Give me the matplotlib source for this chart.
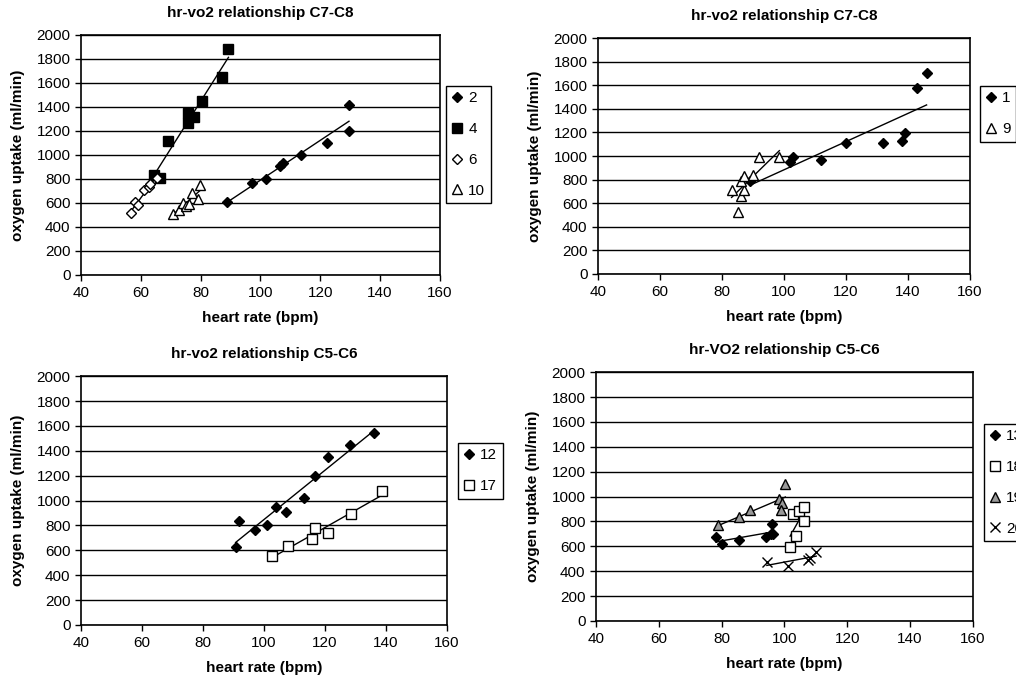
import numpy as np
import matplotlib
matplotlib.use("Agg")
import matplotlib.pyplot as plt

plt.rcParams["font.family"] = ["Liberation Sans", "DejaVu Sans"]
plt.rcParams["font.size"] = 11

# --- data (heart rate bpm, vo2 ml/min) ---
s2_hr = [88.8, 97.3, 101.8, 106.6, 107.7, 113.6, 122.1, 129.6, 129.6]
s2_vo = [611, 764, 797, 911, 931, 1000, 1097, 1200, 1414]
s4_hr = [64.3, 66.3, 69.1, 75.7, 75.7, 77.7, 80.4, 87.3, 89.3]
s4_vo = [833, 806, 1119, 1269, 1347, 1319, 1450, 1647, 1883]
s6_hr = [56.8, 58.2, 59.1, 61.0, 62.9, 63.2, 65.4]
s6_vo = [514, 611, 583, 708, 736, 756, 811]
s10_hr = [70.7, 72.7, 74.0, 75.1, 76.0, 77.1, 79.1, 79.9]
s10_vo = [506, 542, 603, 578, 589, 681, 633, 750]

s1_hr = [89.0, 101.9, 103.0, 111.9, 120.0, 131.8, 138.2, 139.0, 143.0, 146.0]
s1_vo = [785, 946, 988, 969, 1110, 1110, 1124, 1195, 1576, 1703]
s9_hr = [83.1, 85.3, 86.0, 87.1, 86.0, 87.1, 89.9, 91.9, 98.5]
s9_vo = [714, 525, 663, 714, 785, 833, 841, 988, 988]

s12_hr = [90.7, 91.9, 97.0, 100.9, 104.0, 107.3, 113.0, 116.9, 121.1, 128.2, 136.2]
s12_vo = [623, 837, 762, 803, 950, 910, 1022, 1199, 1351, 1445, 1543]
s17_hr = [102.8, 108.0, 115.7, 116.6, 120.9, 128.7, 138.8]
s17_vo = [556, 634, 690, 776, 741, 891, 1075]

s13_hr = [78.1, 80.1, 85.4, 94.2, 95.8, 96.3, 96.1]
s13_vo = [676, 615, 650, 676, 698, 703, 783]
s18_hr = [101.8, 103.6, 102.7, 104.6, 106.1, 106.2]
s18_vo = [596, 682, 856, 882, 917, 802]
s19_hr = [79.0, 85.4, 89.1, 98.2, 99.2, 99.0, 100.3]
s19_vo = [770, 832, 890, 984, 952, 890, 1099]
s20_hr = [94.4, 101.1, 107.5, 108.0, 110.1]
s20_vo = [471, 443, 489, 508, 556]

titles = ["hr-vo2 relationship C7-C8", "hr-vo2 relationship C7-C8",
          "hr-vo2 relationship C5-C6", "hr-VO2 relationship C5-C6"]

# marker styles: (marker, size, face)
sty = {
    "2": ("D", 5.5, "black"), "4": ("s", 6.5, "black"), "6": ("D", 5.5, "white"),
    "10": ("^", 7.5, "white"), "1": ("D", 5.5, "black"), "9": ("^", 7.5, "white"),
    "12": ("D", 5.5, "black"), "17": ("s", 6.5, "white"), "13": ("D", 5.5, "black"),
    "18": ("s", 6.5, "white"), "19": ("^", 7.5, "#999999"), "20": ("x", 7.5, "black"),
}

panels = [
    ([0.0797, 0.5944, 0.3533, 0.354], [("2", s2_hr, s2_vo), ("4", s4_hr, s4_vo),
                                       ("6", s6_hr, s6_vo), ("10", s10_hr, s10_vo)], (446, 86)),
    ([0.5886, 0.5959, 0.3661, 0.348], [("1", s1_hr, s1_vo), ("9", s9_hr, s9_vo)], (980, 86)),
    ([0.0797, 0.0782, 0.3602, 0.367], [("12", s12_hr, s12_vo), ("17", s17_hr, s17_vo)], (458, 443)),
    ([0.5866, 0.0841, 0.371, 0.367], [("13", s13_hr, s13_vo), ("18", s18_hr, s18_vo),
                                      ("19", s19_hr, s19_vo), ("20", s20_hr, s20_vo)], (984, 424)),
]

fig = plt.figure(figsize=(10.16, 6.78), dpi=100)

for (rect, series, legpos), title in zip(panels, titles):
    ax = fig.add_axes(rect)
    handles = []
    for name, hr, vo in series:
        m, ms, fc = sty[name]
        h, = ax.plot(hr, vo, linestyle="none", marker=m, markersize=ms,
                     markerfacecolor=fc, markeredgecolor="black",
                     markeredgewidth=1.0, label=name, zorder=4)
        handles.append(h)
        # linear trendline over the data range
        k, b = np.polyfit(hr, vo, 1)
        xs = np.array([min(hr), max(hr)])
        ax.plot(xs, k * xs + b, color="black", lw=1.0, zorder=3)
    ax.set_xlim(40, 160)
    ax.set_ylim(0, 2000)
    ax.set_xticks(range(40, 161, 20))
    ax.set_yticks(range(0, 2001, 200))
    ax.yaxis.grid(True, color="black", lw=1.0)
    ax.set_axisbelow(True)
    for sp in ax.spines.values():
        sp.set_linewidth(1.2)
    ax.tick_params(direction="out", length=4, width=1, labelsize=11, pad=3.5)
    ax.tick_params(axis="x", pad=4)
    ax.set_title(title, fontsize=11, fontweight="bold", pad=13)
    ax.set_xlabel("heart rate (bpm)", fontsize=11, fontweight="bold", labelpad=8)
    ax.set_ylabel("oxygen uptake (ml/min)", fontsize=11, fontweight="bold", labelpad=8)

    leg = fig.legend(handles=handles, loc="upper left",
                     bbox_to_anchor=(legpos[0] / 1016, 1 - legpos[1] / 678),
                     frameon=True, fancybox=False, framealpha=1,
                     edgecolor="black", handlelength=0.7, handletextpad=0.4,
                     labelspacing=1.1, borderpad=0.35, borderaxespad=0,
                     fontsize=11)
    leg.get_frame().set_linewidth(1.0)

fig.savefig("out.png", dpi=100)
